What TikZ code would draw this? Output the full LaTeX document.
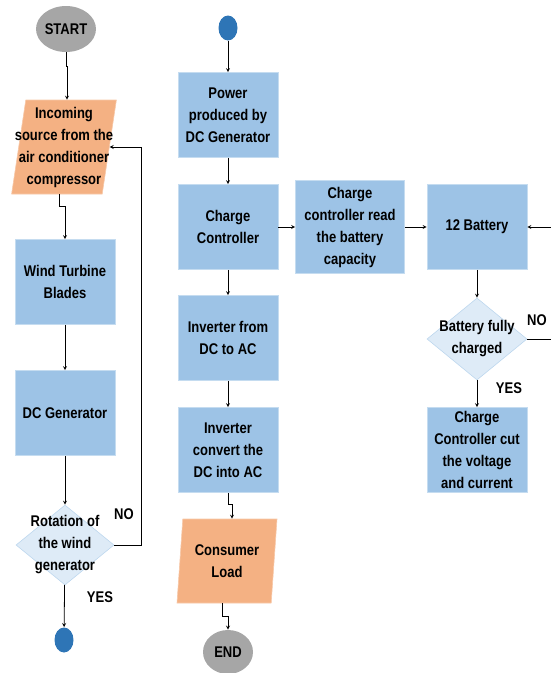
\documentclass[tikz,border=0pt]{standalone}
\usepackage{fontspec}
\setmainfont{Liberation Sans}[FakeStretch=0.84]
\usetikzlibrary{arrows,positioning,shapes.geometric}
\definecolor{boxblue}{HTML}{9DC3E6}
\definecolor{boxedge}{HTML}{C5DCF0}
\definecolor{decblue}{HTML}{DEEBF7}
\definecolor{decedge}{HTML}{BDD7EE}
\definecolor{ioorange}{HTML}{F4B183}
\definecolor{termgray}{HTML}{A6A6A6}
\definecolor{dotblue}{HTML}{2E75B6}

\begin{document}
\begin{tikzpicture}[x=1pt, y=-1pt, >=stealth, line width=0.8pt,
  every node/.style={font=\fontsize{15.5}{22}\selectfont\bfseries, align=center, inner sep=0pt},
  proc/.style={rectangle, fill=boxblue, draw=boxedge, line width=0.6pt, minimum width=100, minimum height=85},
  io/.style={trapezium, trapezium left angle=80, trapezium right angle=100, trapezium stretches body,
    fill=ioorange, draw=ioorange!70!white, line width=0.6pt, minimum height=94},
  dec/.style={diamond, fill=decblue, draw=decedge, line width=0.6pt, minimum width=98, minimum height=80},
  term/.style={ellipse, fill=termgray, minimum width=60, minimum height=46},
  conn/.style={ellipse, fill=dotblue, minimum width=19, minimum height=25}]
  \useasboundingbox (0,0) rectangle (551,673);

  % Left: wind turbine side
  \node[term] (start) at (66,29) {START};
  \node[io, inner xsep=-11pt] (inc) at (64,147) {Incoming\\source from the\\air conditioner\\compressor};
  \node[proc] (blades) at (65,282) {Wind Turbine\\Blades};
  \node[proc] (gen) at (65,413) {DC Generator};
  \node[dec, label={[align=center]center:Rotation of\\the wind\\generator}] (rot) at (65,545) {};
  \node[conn] (c1) at (64,640) {};
  \node at (124,514) {NO};
  \node at (100,597) {YES};

  \draw[->] (start.south) -- ++(0,14) -| ([xshift=3]inc.north);
  \draw[->] ([xshift=-5]inc.south) -- ++(0,12) -| (blades);
  \draw[->] (blades) -- (gen);
  \draw[->] (gen) -- (rot);
  \draw[->] (rot.east) -- ++(27,0) |- (inc.east);
  \draw[->] (rot) -- (c1);

  % Middle: power to the load
  \node[conn] (c2) at (228,28) {};
  \node[proc] (power) at (228,115) {Power\\produced by\\DC Generator};
  \node[proc] (cc) at (228,227) {Charge\\Controller};
  \node[proc] (inv) at (228,338) {Inverter from\\DC to AC};
  \node[proc] (conv) at (228,450) {Inverter\\convert the\\DC into AC};
  \node[io, minimum width=100, minimum height=84] (load) at (227,561) {Consumer\\Load};
  \node[term, minimum width=50, minimum height=44] (end) at (228,652) {END};

  \draw[->] (c2) -- (power);
  \draw[->] (power) -- (cc);
  \draw[->] (cc) -- (inv);
  \draw[->] (inv) -- (conv);
  \draw[->] (conv.south) -- ++(0,12) -| ([xshift=5]load.north);
  \draw[->] ([xshift=-5]load.south) -- ++(0,13) -| (end);

  % Right: battery charging
  \node[proc, minimum width=109, minimum height=93] (read) at (350,227) {Charge\\controller read\\the battery\\capacity};
  \node[proc] (bat) at (477,227) {12 Battery};
  \node[dec, minimum width=100, minimum height=82, label={[align=center]center:Battery fully\\charged}] (full) at (477,339) {};
  \node[proc] (cut) at (477,450) {Charge\\Controller cut\\the voltage\\and current};
  \node at (537,320) {NO};
  \node at (509,388) {YES};
  \coordinate (edgeA) at (551,339);
  \coordinate (edgeB) at (551,227);

  \draw[->] (cc) -- (read);
  \draw[->] (read) -- (bat);
  \draw[->] (bat) -- (full);
  \draw[->] (full) -- (cut);
  \draw (full.east) -- (edgeA);
  \draw[->] (edgeB) -- (bat);
\end{tikzpicture}
\end{document}
